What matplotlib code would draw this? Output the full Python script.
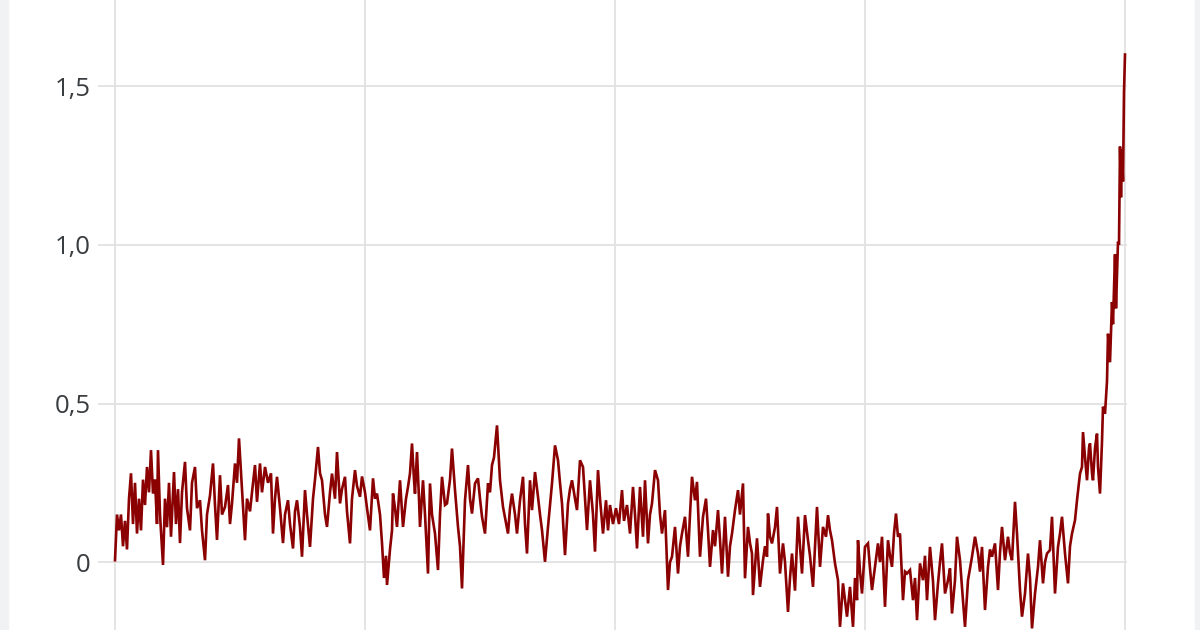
import matplotlib
matplotlib.use("Agg")
import matplotlib.pyplot as plt
from matplotlib.patches import Rectangle

# readings (time, value)
t = [0, 2, 4, 6, 8, 10, 12, 14, 16, 18, 20, 22, 24, 26, 28, 30, 32, 34, 36, 38,
     40, 42, 43, 45, 48, 50, 52, 54, 56, 59, 61, 63, 65, 67, 70, 72, 75, 77, 80, 82,
     85, 87, 90, 92, 95, 98, 100, 102, 105, 107, 110, 113, 115, 117, 120, 122, 124, 127, 130, 132,
     135, 137, 140, 142, 145, 147, 150, 153, 156, 158, 160, 162, 165, 168, 170, 173, 175, 178, 180, 182,
     185, 187, 190, 192, 195, 198, 200, 203, 205, 207, 210, 212, 215, 217, 220, 222, 225, 227, 230, 232,
     235, 237, 240, 242, 245,
     247, 250, 252, 255, 258, 260, 262, 265, 267, 269, 271, 272, 275, 277, 278, 280, 282, 285, 287, 288,
     291, 293, 295, 297, 299, 300, 302, 304, 305, 308, 310, 313, 315, 317, 320, 323, 325, 327, 330, 332,
     335, 337, 340, 343, 345, 347, 350, 353, 355, 357, 360, 363, 365, 367, 370, 373, 375, 377, 379, 382,
     385, 388, 390, 393, 395, 397, 400, 402, 405, 408, 410, 412, 415, 417, 420, 423, 425, 427, 430, 433,
     435, 437, 440, 443, 445, 447, 450, 453, 455, 457, 460, 462, 465, 468, 470, 472, 475, 478, 480, 483,
     485, 488, 491,
     493, 495, 498, 501, 504, 507, 509, 512, 515, 518, 520, 522, 525, 528, 530, 533, 535, 537, 540, 543,
     545, 547, 550, 553, 555, 557, 560, 563, 565, 567, 570, 573, 575, 577, 580, 582, 585, 588, 591, 593,
     595, 598, 600, 603, 605, 607, 610, 613, 615, 617, 620, 623, 625, 628, 630, 633, 635, 637, 638, 642,
     645, 648, 650, 652, 653, 655, 657, 660, 662, 665, 668, 670, 673, 675, 677, 680, 683, 685, 687, 690,
     693, 695, 698, 700, 702, 705, 708, 711, 713, 715, 717, 720, 723, 725, 728, 730, 732, 735, 738, 740,
     742, 743, 745, 747, 750, 753, 755, 757, 760, 763, 765, 767, 770, 773, 775, 777, 779, 781, 783, 785,
     788, 790, 792, 795, 798, 800, 802, 805, 808, 810, 812, 815, 818, 820, 823, 825, 827, 830, 833, 835,
     837, 840, 842, 845, 847, 850, 853, 855, 857, 860, 863, 865, 867, 870, 873, 875, 877, 880, 883, 885,
     887, 890, 893, 895, 897, 900, 902, 905, 907, 910, 913, 915, 917, 920, 923, 925, 928, 930, 932, 935,
     937, 940, 943, 945, 947, 950, 953, 955, 957, 960, 962, 965, 967, 968, 970, 972, 974, 975, 977, 978,
     980, 982, 983, 985, 987, 988, 990, 992, 993, 995, 997, 998, 1000, 1001, 1003, 1004, 1005, 1006, 1007, 1008,
     1009, 1010]

values = [0.006, 0.15, 0.10, 0.15, 0.05, 0.13, 0.04, 0.20, 0.28, 0.12, 0.25, 0.09, 0.20, 0.10, 0.26, 0.18, 0.30, 0.22, 0.353, 0.216,
          0.26, 0.12, 0.353, 0.15, -0.009, 0.20, 0.11, 0.25, 0.08, 0.284, 0.12, 0.23, 0.06, 0.22, 0.316, 0.17, 0.10, 0.25, 0.30, 0.17,
          0.195, 0.10, 0.006, 0.15, 0.21, 0.311, 0.18, 0.07, 0.274, 0.15, 0.174, 0.243, 0.12, 0.185, 0.311, 0.25, 0.39, 0.227, 0.069, 0.20,
          0.16, 0.22, 0.306, 0.19, 0.311, 0.22, 0.30, 0.25, 0.28, 0.09, 0.20, 0.269, 0.17, 0.06, 0.15, 0.195, 0.12, 0.043, 0.16, 0.195,
          0.11, 0.017, 0.227, 0.15, 0.048, 0.20, 0.26, 0.363, 0.28, 0.258, 0.15, 0.111, 0.22, 0.279, 0.20, 0.347, 0.185, 0.23, 0.269, 0.16,
          0.059, 0.20, 0.29, 0.24, 0.206,
          0.27, 0.22, 0.17, 0.10, 0.264, 0.20, 0.216, 0.15, 0.06, -0.05, 0.02, -0.072, 0.04, 0.10, 0.216, 0.17, 0.111, 0.258, 0.16, 0.111,
          0.20, 0.237, 0.28, 0.374, 0.26, 0.216, 0.347, 0.20, 0.111, 0.258, 0.15, -0.036, 0.248, 0.15, 0.09, -0.025, 0.15, 0.269, 0.18, 0.185,
          0.26, 0.358, 0.227, 0.111, 0.05, -0.083, 0.195, 0.306, 0.20, 0.153, 0.248, 0.264, 0.20, 0.143, 0.09, 0.248, 0.22, 0.306, 0.33, 0.431,
          0.258, 0.174, 0.14, 0.09, 0.17, 0.216, 0.15, 0.09, 0.195, 0.269, 0.12, 0.027, 0.258, 0.164, 0.284, 0.206, 0.15, 0.101, 0.001, 0.111,
          0.18, 0.248, 0.368, 0.321, 0.25, 0.185, 0.022, 0.185, 0.23, 0.258, 0.20, 0.164, 0.321, 0.30, 0.20, 0.101, 0.258, 0.15, 0.033, 0.29,
          0.20, 0.09, 0.195,
          0.10, 0.18, 0.12, 0.17, 0.12, 0.227, 0.13, 0.18, 0.09, 0.237, 0.15, 0.043, 0.237, 0.08, 0.258, 0.059, 0.15, 0.185, 0.290, 0.258,
          0.15, 0.09, 0.164, -0.088, 0.0, 0.017, 0.111, -0.036, 0.05, 0.09, 0.143, 0.017, 0.15, 0.269, 0.195, 0.253, 0.017, 0.143, 0.20, 0.10,
          -0.015, 0.101, 0.05, 0.164, 0.07, -0.036, 0.143, -0.046, 0.05, 0.090, 0.164, 0.227, 0.15, 0.248, -0.051, 0.111, 0.06, 0.027, -0.104, 0.075,
          -0.078, 0.006, 0.05, 0.017, 0.153, 0.08, 0.059, 0.11, 0.174, -0.036, 0.059, 0.0, -0.157, -0.05, 0.027, -0.09, 0.143, 0.05, -0.036, 0.148,
          0.069, 0.02, -0.078, 0.05, 0.174, -0.015, 0.111, 0.08, 0.148, 0.10, 0.069, -0.004, -0.057, -0.204, -0.067, -0.12, -0.172, -0.078, -0.204, -0.05,
          -0.12, 0.069, -0.03, -0.099, 0.048, 0.059, -0.02, -0.088, -0.015, 0.059, 0.0, 0.08, -0.141, 0.069, 0.02, -0.015, 0.09, 0.153, 0.08, 0.09,
          -0.12, -0.03, -0.036, -0.025, -0.12, -0.05, -0.183, -0.004, -0.057, 0.02, -0.12, 0.048, -0.06, -0.183, -0.067, 0.0, 0.059, -0.099, -0.057, -0.02,
          -0.162, -0.057, 0.08, 0.006, -0.08, -0.204, -0.057, -0.02, 0.017, 0.08, 0.027, -0.03, 0.048, -0.151, -0.015, 0.04, 0.017, 0.059, -0.088, 0.03,
          0.111, 0.006, 0.08, 0.03, 0.006, 0.19, 0.09, -0.088, -0.172, -0.099, 0.027, -0.05, -0.209, -0.099, -0.015, 0.069, -0.067, 0.0, 0.027, 0.038,
          0.143, -0.099, 0.048, 0.09, 0.143, 0.027, -0.067, 0.05, 0.09, 0.132, 0.195, 0.279, 0.30, 0.41, 0.33, 0.258, 0.36, 0.374, 0.28, 0.258,
          0.36, 0.405, 0.30, 0.216, 0.38, 0.49, 0.468, 0.57, 0.72, 0.63, 0.82, 0.75, 0.97, 0.80, 1.01, 1.00, 1.31, 1.15, 1.30, 1.20,
          1.48, 1.60]

y_ticks = [0, 0.5, 1.0, 1.5]
y_labels = ["0", "0,5", "1,0", "1,5"]
x_ticks = [0, 250, 500, 750, 1010]

W, H = 1200, 630
fig = plt.figure(figsize=(W / 100, H / 100), dpi=100)
fig.patch.set_facecolor("white")

# light side strips
fig.patches.append(Rectangle((0, 0), 8 / W, 1, transform=fig.transFigure, color="#f1f2f4", zorder=0))
fig.patches.append(Rectangle((1 - 5 / W, 0), 5 / W, 1, transform=fig.transFigure, color="#f1f2f4", zorder=0))

grid_c = "#e2e2e2"
ax = fig.add_axes([113 / W, 0, (1127 - 113) / W, 1])
ax.set_facecolor("none")
ax.plot(t, values, color="#8b0000", lw=1.9, solid_joinstyle="miter", zorder=3)

ax.set_xlim(-2, 1012)
ax.set_ylim(-0.214, 1.772)
ax.set_xticks(x_ticks)
ax.set_yticks(y_ticks)
ax.set_yticklabels(y_labels)
ax.grid(True, color=grid_c, lw=1.3)
ax.tick_params(axis="x", length=0, labelbottom=False)
ax.tick_params(axis="y", length=11, width=1.3, color=grid_c, pad=5,
               labelsize=18.5, labelcolor="#3a3d40")
for lab in ax.get_yticklabels():
    lab.set_family("Open Sans")
for s in ax.spines.values():
    s.set_visible(False)

fig.savefig("out.png", dpi=100)
